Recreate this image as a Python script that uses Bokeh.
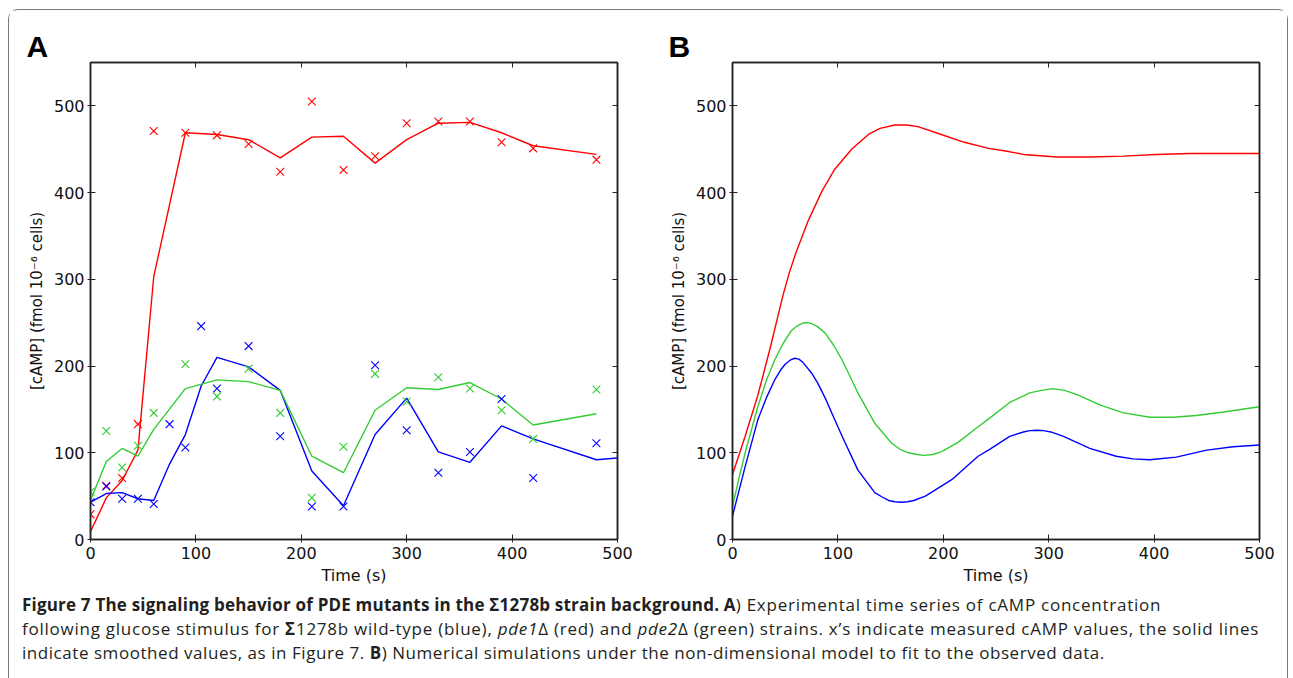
from bokeh.plotting import figure
from bokeh.models import LinearAxis, Range1d, Div, FixedTicker
from bokeh.layouts import row, column
from bokeh.embed import file_html
from bokeh.resources import INLINE

# ---------------- Panel A: measured (x) and smoothed (lines) ----------------
red_meas_t = [0, 15, 30, 45, 60, 90, 120, 150, 180, 210, 240, 270, 300, 330, 360, 390, 420, 480]
red_meas_v = [29, 62, 71, 133, 471, 469, 466, 456, 424, 505, 426, 442, 480, 482, 482, 458, 451, 438]
blue_meas_t = [0, 15, 30, 45, 60, 75, 90, 105, 120, 150, 180, 210, 240, 270, 300, 330, 360, 390, 420, 480]
blue_meas_v = [43, 61, 47, 47, 41, 133, 106, 246, 174, 223, 119, 38, 38, 201, 126, 77, 101, 162, 71, 111]
green_meas_t = [0, 15, 30, 45, 60, 90, 120, 150, 180, 210, 240, 270, 300, 330, 360, 390, 420, 480]
green_meas_v = [55, 125, 83, 108, 146, 202, 165, 197, 146, 48, 107, 191, 159, 187, 174, 149, 116, 173]

red_smooth_t = [0, 15, 30, 45, 60, 90, 120, 150, 180, 210, 240, 270, 300, 330, 360, 390, 420, 480]
red_smooth_v = [9, 48, 68, 103, 303, 469, 467, 461, 440, 464, 465, 434, 461, 480, 481, 469, 454, 444]
blue_smooth_t = [0, 15, 30, 45, 60, 75, 90, 105, 120, 150, 180, 210, 240, 270, 300, 330, 360, 390, 420, 480, 500]
blue_smooth_v = [43, 53, 54, 47, 45, 87, 121, 177, 210, 199, 172, 79, 39, 121, 163, 101, 89, 131, 116, 92, 94]
green_smooth_t = [0, 15, 30, 45, 60, 90, 120, 150, 180, 210, 240, 270, 300, 330, 360, 390, 420, 480]
green_smooth_v = [45, 90, 105, 96, 127, 174, 184, 182, 172, 96, 77, 149, 175, 173, 181, 162, 132, 145]

# ---------------- Panel B: simulations ----------------
red_sim_t = [0, 12, 24, 36, 42, 48, 54, 60, 72, 85, 97, 113, 129, 140, 154, 165, 176, 198, 220, 243,
             259, 276, 308, 340, 371, 402, 434, 466, 500]
red_sim_v = [75, 119, 166, 222, 252, 282, 308, 330, 368, 402, 427, 450, 467, 474, 478, 478, 476, 467, 458, 451,
             448, 444, 441, 441, 442, 444, 445, 445, 445]
green_sim_t = [0, 6, 12, 24, 32, 40, 48, 56, 60, 64, 68, 71, 75, 80, 88, 96, 104, 119, 135, 151, 159,
               167, 175, 182, 190, 198, 214, 233, 244, 263, 282, 293, 304, 315, 327, 349, 371, 396,
               418, 440, 466, 500]
green_sim_v = [38, 70, 100, 153, 183, 207, 226, 241, 245, 248, 250, 250, 249, 246, 238, 224, 207, 169,
               134, 111, 104, 100, 98, 97, 98, 101, 112, 130, 140, 158, 169, 172, 174, 172, 167, 155,
               146, 141, 141, 143, 147, 153]
blue_sim_t = [0, 12, 24, 32, 40, 46, 50, 55, 59, 63, 67, 75, 81, 88, 96, 104, 119, 135, 142, 148,
              154, 160, 166, 172, 183, 208, 233, 244, 263, 276, 282, 289, 295, 302, 314, 339, 364,
              380, 396, 421, 450, 475, 500]
blue_sim_v = [27, 84, 138, 163, 184, 196, 202, 207, 209, 208, 204, 192, 180, 163, 141, 119, 80, 54,
              49, 45, 43.5, 43, 43.5, 45, 50, 69, 96, 104, 119, 124, 125.5, 126, 125.5, 124, 119, 105,
              96, 93, 92, 95, 103, 107, 109]

x_ticks = [0, 100, 200, 300, 400, 500]
y_ticks = [0, 100, 200, 300, 400, 500]
x_label = "Time (s)"
y_label = "[cAMP] (fmol 10\u207b\u2076 cells)"

RED = "#ff0000"
BLUE = "#0000ff"
GREEN = "#33cc33"
AX = "#222222"
FONT = "DejaVu Sans"


def style_axis(ax, show_labels=True, tick_out=0):
    ax.axis_line_color = AX
    ax.axis_line_width = 1.5
    ax.major_tick_line_color = AX
    ax.major_tick_line_width = 1
    ax.major_tick_in = 5
    ax.major_tick_out = tick_out
    ax.minor_tick_in = 0
    ax.minor_tick_out = 0
    ax.major_label_text_font = FONT
    ax.major_label_text_font_size = "16px"
    ax.major_label_text_color = "#111111"
    if not show_labels:
        ax.major_label_overrides = {t: "" for t in x_ticks}
        ax.major_label_text_font_size = "0px"
        ax.major_label_standoff = 0


def make_panel(label, width, right_border):
    p = figure(width=width, height=577, x_range=Range1d(0, 500), y_range=Range1d(0, 550),
               output_backend="svg", toolbar_location=None, title=label,
               min_border_left=81, min_border_right=right_border,
               min_border_top=52, min_border_bottom=45)
    p.grid.visible = False
    p.outline_line_color = AX
    p.outline_line_width = 1.5
    p.background_fill_color = "white"
    p.border_fill_color = "white"

    p.xaxis.ticker = FixedTicker(ticks=x_ticks)
    p.yaxis.ticker = FixedTicker(ticks=y_ticks)
    for ax in p.xaxis:
        style_axis(ax, tick_out=3)
        ax.major_label_standoff = 4
        ax.axis_label = x_label
        ax.axis_label_text_font = FONT
        ax.axis_label_text_font_size = "16px"
        ax.axis_label_text_font_style = "normal"
        ax.axis_label_text_color = "#111111"
        ax.axis_label_standoff = 4
    for ax in p.yaxis:
        style_axis(ax, tick_out=3)
        ax.major_label_standoff = 3
        ax.axis_label = y_label
        ax.axis_label_text_font = FONT
        ax.axis_label_text_font_size = "15px"
        ax.axis_label_text_font_style = "normal"
        ax.axis_label_text_color = "#111111"
        ax.axis_label_standoff = 5

    top = LinearAxis(ticker=FixedTicker(ticks=x_ticks))
    style_axis(top, show_labels=False)
    p.add_layout(top, "above")
    right = LinearAxis(ticker=FixedTicker(ticks=y_ticks))
    style_axis(right, show_labels=False)
    p.add_layout(right, "right")

    p.title.text_font = "Liberation Sans"
    p.title.text_font_style = "bold"
    p.title.text_font_size = "30px"
    p.title.text_color = "#000000"
    p.title.offset = -64
    p.title.standoff = 0
    return p


pA = make_panel("A", 642, 34)
for t, v, c in [(red_smooth_t, red_smooth_v, RED), (blue_smooth_t, blue_smooth_v, BLUE),
                (green_smooth_t, green_smooth_v, GREEN)]:
    pA.line(t, v, line_color=c, line_width=1.4)
for t, v, c in [(red_meas_t, red_meas_v, RED), (blue_meas_t, blue_meas_v, BLUE),
                (green_meas_t, green_meas_v, GREEN)]:
    pA.scatter(t, v, marker="x", size=11, line_color=c, line_width=1.1)

pB = make_panel("B", 636, 28)
for t, v, c in [(red_sim_t, red_sim_v, RED), (green_sim_t, green_sim_v, GREEN),
                (blue_sim_t, blue_sim_v, BLUE)]:
    pB.line(t, v, line_color=c, line_width=1.4)

caption_html = (
    '<div style="font-family:\'Open Sans\'; font-size:17px; letter-spacing:0.75px; line-height:24px; '
    'color:#231f20; white-space:nowrap; padding-left:13px;">'
    '<b style="letter-spacing:0.2px">Figure 7 The signaling behavior of PDE mutants in the \u03a31278b '
    'strain background. A</b>) '
    'Experimental time series of cAMP concentration<br>'
    'following glucose stimulus for <b>\u03a3</b>1278b wild-type (blue), <i>pde1</i>\u0394 (red) and '
    '<i>pde2</i>\u0394 (green) strains. x\u2019s indicate measured cAMP values, the solid lines<br>'
    '<span style="letter-spacing:0.55px">indicate smoothed values, as in Figure 7. <b>B</b>) Numerical '
    'simulations under the non-dimensional model to fit to the observed data.</span>'
    '</div>'
)
caption = Div(text=caption_html, width=1275, height=80, margin=(6, 0, 0, 0))

layout = column(row(pA, pB), caption, margin=(9, 0, 0, 8),
                styles={"border": "1.5px solid #777777", "border-bottom": "none",
                        "border-radius": "10px 10px 0 0", "padding-bottom": "10px",
                        "background": "white"})

open("out.html", "w").write(file_html(layout, INLINE))
